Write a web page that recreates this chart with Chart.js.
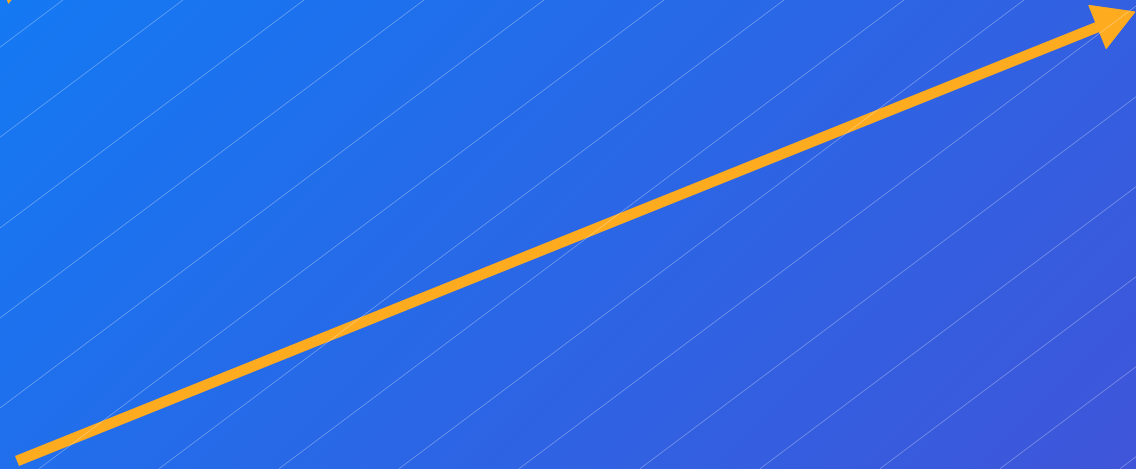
<!DOCTYPE html>
<html>
<head>
<meta charset="utf-8">
<script src="https://cdn.jsdelivr.net/npm/chart.js@4/dist/chart.umd.min.js"></script>
<style>
  html, body { margin: 0; padding: 0; background: #1f6cec; overflow: hidden; }
  #wrap { width: 1136px; height: 469px; }
</style>
</head>
<body>
<div id="wrap"><canvas id="arrow-chart"></canvas></div>
<script>
// arrow: start and end (where the head sits)
var arrowX = [17, 1110]
var arrowY = [461, 22]

// faint hatch lines, where each one meets the top edge
var hatchTop = [63, 183, 304, 424, 544, 664, 784, 904, 1024, 1144, 1265, 1385, 1505, 1625, 1745]
var hatchSlope = 0.75

// little orange corner mark
var cornerX = [9]
var cornerY = [0]

var W = 1136, H = 469

var bgPlugin = {
    id: 'bg',
    beforeDraw: function(chart) {
        var c = chart.ctx
        var g = c.createLinearGradient(0, 0, 802, 802)
        g.addColorStop(0, '#1479f3')
        g.addColorStop(1, '#3f55d9')
        c.save()
        c.fillStyle = g
        c.fillRect(0, 0, chart.width, chart.height)
        c.restore()
    }
}

var datasets = []
for (var i = 0; hatchTop.length > i; i++) {
    var t = hatchTop[i]
    datasets.push({
        data: [{x: t, y: 0}, {x: t - H / hatchSlope, y: H}],
        showLine: true,
        borderColor: 'rgba(255,255,255,0.32)',
        borderWidth: 1,
        pointRadius: 0
    })
}

var arrowPts = arrowX.map(function(x, i) { return {x: x, y: arrowY[i]} })
var dx = arrowX[1] - arrowX[0]
var dy = arrowY[1] - arrowY[0]
var headRot = Math.atan2(dx, -dy) * 180 / Math.PI

datasets.push({
    data: arrowPts,
    showLine: true,
    borderColor: '#ffab1f',
    borderWidth: 11,
    borderCapStyle: 'butt',
    pointRadius: 0
})
datasets.push({
    data: [arrowPts[1]],
    showLine: false,
    pointStyle: 'triangle',
    rotation: headRot,
    pointRadius: 27,
    backgroundColor: '#ffab1f',
    borderColor: '#ffab1f',
    borderWidth: 1
})
datasets.push({
    data: cornerX.map(function(x, i) { return {x: x, y: cornerY[i]} }),
    showLine: false,
    pointStyle: 'triangle',
    rotation: headRot,
    pointRadius: 4,
    backgroundColor: '#ffab1f',
    borderWidth: 0
})

var ctx = document.getElementById('arrow-chart').getContext('2d')
var chart = new Chart(ctx, {
    type: 'scatter',
    data: { datasets: datasets },
    plugins: [bgPlugin],
    options: {
        responsive: true,
        maintainAspectRatio: false,
        animation: false,
        layout: { padding: 0, autoPadding: false },
        scales: {
            x: { type: 'linear', min: 0, max: W, display: false },
            y: { type: 'linear', min: 0, max: H, reverse: true, display: false }
        },
        plugins: {
            legend: { display: false },
            tooltip: { enabled: false }
        }
    }
})
</script>
</body>
</html>
